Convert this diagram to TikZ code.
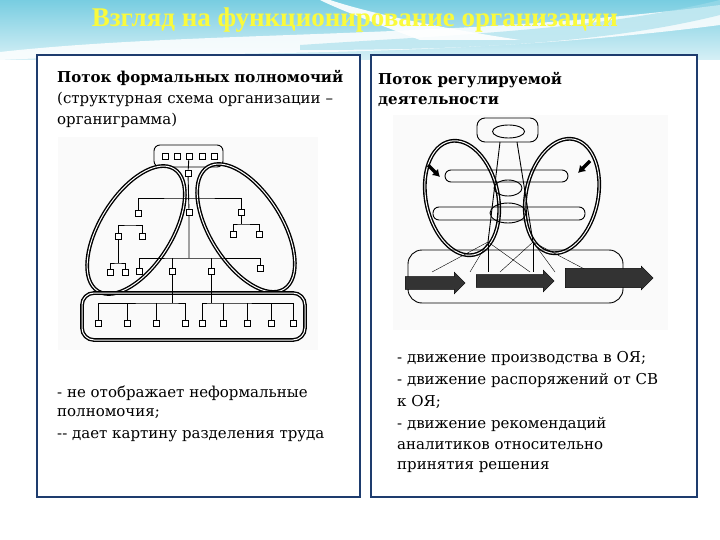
\documentclass[tikz,border=0pt]{standalone}
\usepackage{fontspec}
\setmainfont{DejaVu Serif}
\newfontfamily\titlefont{Liberation Serif}
\usetikzlibrary{shapes.geometric,arrows.meta,shapes.arrows}
\definecolor{frameblue}{RGB}{30,60,110}
\definecolor{skycyan}{RGB}{120,205,225}
\definecolor{titleyellow}{RGB}{250,250,60}
\tikzset{
 panel/.style={draw=frameblue,line width=1.6pt,fill=white},
 txt/.style={anchor=west,font=\fontsize{15}{17}\selectfont,inner sep=0pt},
 btxt/.style={txt,font=\bfseries\fontsize{15}{17}\selectfont},
 sq/.style={draw,fill=white,minimum size=6pt,inner sep=0pt,line width=0.6pt},
 ln/.style={line width=0.9pt},
 lobe/.style={draw,line width=1.4pt,double=white,double distance=1pt},
 fat/.style={single arrow,draw=black,fill=black!80,minimum height=#1,minimum width=22pt,single arrow head extend=3pt,inner sep=4pt}
}
\begin{document}
\begin{tikzpicture}[x=1pt,y=-1pt]
\useasboundingbox (0,0) rectangle (720,540);
% background
\fill[white] (0,0) rectangle (720,540);
\shade[top color=skycyan,bottom color=skycyan!30] (0,0) rectangle (720,60);
\fill[white,opacity=0.85] (0,52) .. controls (200,30) and (450,40) .. (720,5) -- (720,25) .. controls (450,60) and (200,50) .. (0,60) -- cycle;
\fill[skycyan!70,opacity=0.6] (300,45) .. controls (450,35) and (600,30) .. (720,0) -- (720,15) .. controls (600,45) and (450,50) .. (300,50) -- cycle;
\fill[white,opacity=0.9] (330,0) .. controls (360,10) and (420,25) .. (520,40) -- (420,40) .. controls (380,25) and (340,10) .. (320,0) -- cycle;
\node[font=\titlefont\bfseries\fontsize{27}{30}\selectfont,text=titleyellow] (title) at (355,20) {Взгляд на функционирование организации};
% panels
\draw[panel] (37,55) rectangle (360,497);
\draw[panel] (371,55) rectangle (697,497);
% left texts
\node[btxt] (l1) at (57,78) {Поток формальных полномочий};
\node[txt] (l2) at (57,99) {(структурная схема организации –};
\node[txt] (l3) at (57,120) {органиграмма)};
\node[txt] (l4) at (57,393) {- не отображает неформальные};
\node[txt] (l5) at (57,414) {полномочия;};
\node[txt] (l6) at (57,436) {{-}{-} дает картину разделения труда};
% right texts
\node[btxt] (r1) at (378,80) {Поток регулируемой};
\node[btxt] (r2) at (378,102) {деятельности};
\node[txt] (r3) at (397,358) {- движение производства в ОЯ;};
\node[txt] (r4) at (397,380) {- движение распоряжений от СВ};
\node[txt] (r5) at (397,402) {к ОЯ;};
\node[txt] (r6) at (397,424) {- движение рекомендаций};
\node[txt] (r7) at (397,446) {аналитиков относительно};
\node[txt] (r8) at (397,467) {принятия решения};
% ---- left diagram
\fill[black!2] (58,137) rectangle (318,350);
\draw[ln,rounded corners=6pt] (154,145) rectangle (223,167);
\foreach \x [count=\i] in {165,177,189,202,214}\node[sq] (t\i) at (\x,156) {};
\draw[lobe,rotate around={58:(136,230)}] (136,230) ellipse (72 and 36);
\draw[lobe,rotate around={-58:(246,228)}] (246,228) ellipse (72 and 36);
\draw[lobe,rounded corners=12pt] (82,293) rectangle (305,340);
\node[sq] (a0) at (188,173) {};
\node[sq] (a1) at (189,212) {};
\node[sq] (b1) at (138,213) {};
\node[sq] (b2) at (241,212) {};
\node[sq] (c1) at (118,236) {};
\node[sq] (c2) at (142,236) {};
\node[sq] (c3) at (233,234) {};
\node[sq] (c4) at (259,234) {};
\node[sq] (d1) at (110,272) {};
\node[sq] (d2) at (125,272) {};
\node[sq] (e1) at (139,271) {};
\node[sq] (e2) at (172,271) {};
\node[sq] (e3) at (211,271) {};
\node[sq] (e4) at (260,268) {};
\foreach \x [count=\i] in {98,127,156,185,202,223,247,271,293}\node[sq] (f\i) at (\x,323) {};
\draw[ln] (t3) -- (a0) -- (a1) -- (189,258);
\draw[ln] (b1) |- (189,198) -| (b2);
\draw[ln] (c1) |- (130,225) -| (c2);
\draw[ln] (c1) -- (118,263);
\draw[ln] (d1) |- (118,263) -| (d2);
\draw[ln] (b2) -- (241,224);
\draw[ln] (c3) |- (241,224) -| (c4);
\draw[ln] (e1) |- (189,258) -| (e4);
\draw[ln] (e2) |- (172,258);
\draw[ln] (e3) |- (211,258);
\draw[ln] (e2) -- (172,303);
\draw[ln] (e3) -- (211,303);
\draw[ln] (f1) |- (172,303) -| (f4);
\draw[ln] (f2) -- (127,303); \draw[ln] (f3) -- (156,303);
\draw[ln] (f5) |- (211,303) -| (f9);
\foreach \i in {6,7,8}\draw[ln] (f\i) -- (f\i|-211,303);
% ---- right diagram
\fill[black!2] (393,115) rectangle (668,330);
\draw[ln,rounded corners=8pt] (477,118) rectangle (538,142);
\draw[ln] (508.5,131.5) ellipse (16 and 6.5);
\draw[lobe,rotate around={12:(462,198)}] (462,198) ellipse (36 and 58);
\draw[lobe,rotate around={-12:(562,196)}] (562,196) ellipse (36 and 58);
\draw[ln,rounded corners=6pt] (445,170) rectangle (568,182);
\draw[ln,rounded corners=6pt] (433,207) rectangle (585,220);
\draw[ln] (508,188) ellipse (14 and 8);
\draw[ln] (508,213) ellipse (18 and 10);
\draw[ln,rounded corners=14pt] (408,250) rectangle (623,303);
\coordinate (p1) at (488,242);
\coordinate (p2) at (533,242);
\draw[ln] (500,142) -- (p1); \draw[ln] (517,142) -- (p2);
\foreach \x in {432,470,488,530}\draw[thin] (p1) -- (\x,272);
\foreach \x in {500,533,555,590}\draw[thin] (p2) -- (\x,272);
\node[fat=60pt,anchor=west] (ar1) at (405,283) {};
\node[fat=78pt,anchor=west] (ar2) at (476,281) {};
\node[fat=88pt,anchor=west,minimum width=24pt,single arrow head extend=1pt] (ar3) at (565,278) {};
\draw[-{Latex[length=7pt,width=9pt]},line width=3.5pt] (428,165) -- (440,177);
\draw[-{Latex[length=7pt,width=9pt]},line width=3.5pt] (590,161) -- (578,173);
\end{tikzpicture}
\end{document}
